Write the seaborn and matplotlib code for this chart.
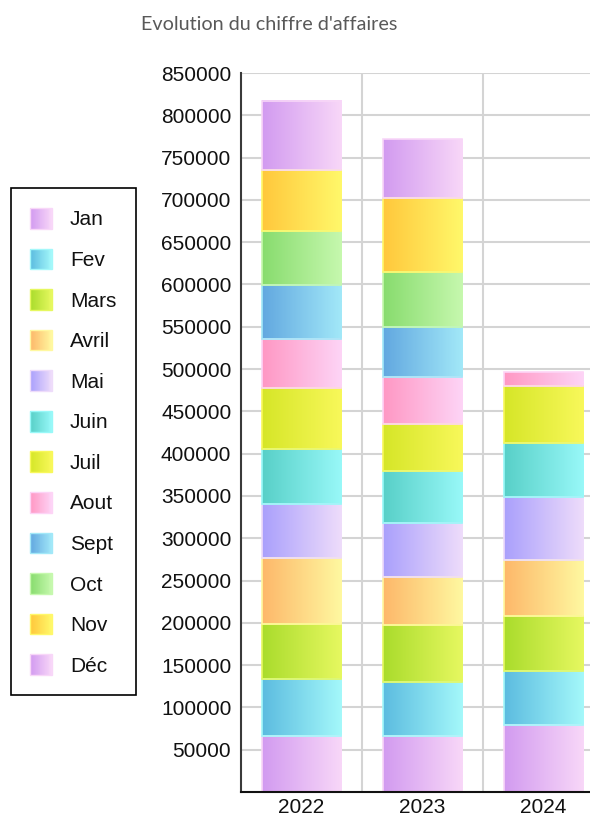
import numpy as np
import pandas as pd
import seaborn as sns
import matplotlib.pyplot as plt
from matplotlib.patches import Patch, Rectangle
from matplotlib.legend_handler import HandlerBase
from matplotlib.colors import LinearSegmentedColormap
from matplotlib.ticker import StrMethodFormatter

# Données (chiffre d'affaires mensuel)
annees = ["2022", "2023", "2024"]
mois = ["Jan", "Fev", "Mars", "Avril", "Mai", "Juin", "Juil", "Aout", "Sept", "Oct", "Nov", "Déc"]
ca_2022 = [66500, 67000, 65400, 77200, 64300, 65000, 72100, 58300, 63800, 63800, 72100, 81600]
ca_2023 = [66500, 63800, 67000, 56800, 63800, 61800, 55200, 56200, 58700, 65000, 87800, 69400]
ca_2024 = [79500, 63800, 64200, 67000, 73700, 64200, 68100, 16500, 0, 0, 0, 0]

# Dégradés gauche -> droite pour chaque mois
couleurs_gauche = ["#d29bf0", "#5cbce0", "#aadc2c", "#fdb86a", "#aaa0fc", "#58d0c8",
                   "#d6e628", "#ff98c4", "#62a8e0", "#88dc6e", "#ffc83c", "#d29bf0"]
couleurs_droite = ["#f8d7f8", "#a4f8fa", "#e6f860", "#fff8a0", "#eedcfa", "#98f8f8",
                   "#f8f85a", "#fdd4f6", "#a2e8f8", "#c6f8ae", "#fff86a", "#f8d7f8"]


class HandlerDegrade(HandlerBase):
    """Carré de légende avec un dégradé horizontal."""

    def create_artists(self, legend, orig_handle, xdescent, ydescent,
                       width, height, fontsize, trans):
        c1 = orig_handle.get_facecolor()
        c2 = orig_handle.get_edgecolor()
        cmap = LinearSegmentedColormap.from_list("deg", [c1, c2])
        n = 24
        artistes = []
        for i in range(n):
            artistes.append(Rectangle((-xdescent + i * width / n, -ydescent), width / n * 1.05, height,
                                      facecolor=cmap(i / (n - 1)), edgecolor="none", transform=trans))
        artistes.append(Rectangle((-xdescent, -ydescent), width, height, facecolor="none",
                                  edgecolor=c2, lw=1, transform=trans))
        return artistes


sns.set_style("white")
plt.rcParams["font.family"] = ["Liberation Sans", "DejaVu Sans"]

table = pd.DataFrame([ca_2022, ca_2023, ca_2024], index=annees, columns=mois)
cumul = table.cumsum(axis=1)

fig = plt.figure(figsize=(5.9, 8.18), dpi=100)
ax = fig.add_axes([241 / 590, 1 - 792 / 818, 363 / 590, (792 - 73) / 818])

degrade = np.linspace(0, 1, 64).reshape(1, -1)
for i, m in enumerate(mois):
    bas = (cumul[m] - table[m]).values
    n_avant = len(ax.patches)
    sns.barplot(x=annees, y=table[m].values, bottom=bas, order=annees, color=couleurs_gauche[i],
                width=0.66, errorbar=None, ax=ax)
    cmap = LinearSegmentedColormap.from_list(m, [couleurs_gauche[i], couleurs_droite[i]])
    for p in list(ax.patches[n_avant:]):
        if p.get_height() <= 0:
            p.remove()
            continue
        x0, y0, w, h = p.get_x(), p.get_y(), p.get_width(), p.get_height()
        ax.imshow(degrade, cmap=cmap, extent=(x0, x0 + w, y0, y0 + h), aspect="auto",
                  origin="lower", interpolation="bilinear", zorder=1.5)
        p.set_facecolor("none")
        p.set_edgecolor(couleurs_droite[i])
        p.set_linewidth(1.2)
        p.set_zorder(2)

# Axes et grille
ax.set_xlim(-0.5, 2.5)
ax.set_ylim(0, 850000)
ax.set_yticks(np.arange(50000, 850001, 50000))
ax.yaxis.set_major_formatter(StrMethodFormatter("{x:.0f}"))
ax.set_xticks([0.5, 1.5], minor=True)
ax.set_axisbelow(True)
ax.yaxis.grid(True, color="#d4d4d4", lw=1.5)
ax.xaxis.grid(True, which="minor", color="#d4d4d4", lw=1.5)
ax.tick_params(axis="both", which="both", length=0, labelsize=15, colors="#111111")
ax.tick_params(axis="y", pad=7)
ax.tick_params(axis="x", pad=4)
ax.set_xlabel("")
ax.set_ylabel("")
for cote in ["top", "right"]:
    ax.spines[cote].set_visible(False)
ax.spines["left"].set_color("#3a3a3a")
ax.spines["left"].set_linewidth(1.5)
ax.spines["bottom"].set_color("#111111")
ax.spines["bottom"].set_linewidth(1.5)

# Titre
fig.text(269 / 590, 1 - 24 / 818, "Evolution du chiffre d'affaires", ha="center", va="center",
         fontsize=14.2, color="#595959", family=["Lato", "DejaVu Sans"])

# Légende
poignees = [Patch(facecolor=g, edgecolor=d, label=m)
            for m, g, d in zip(mois, couleurs_gauche, couleurs_droite)]
leg = fig.legend(handles=poignees, loc="upper left", bbox_to_anchor=(10.7 / 590, 1 - 188.3 / 818),
                 bbox_transform=fig.transFigure, frameon=True, fancybox=False, edgecolor="black",
                 framealpha=1, fontsize=15, handlelength=1.04, handleheight=1.15, labelspacing=0.92,
                 borderpad=0.95, handletextpad=0.85, borderaxespad=0,
                 handler_map={Patch: HandlerDegrade()})
leg.get_frame().set_linewidth(1.2)
for t in leg.get_texts():
    t.set_color("#111111")

fig.savefig("out.png", dpi=100)
